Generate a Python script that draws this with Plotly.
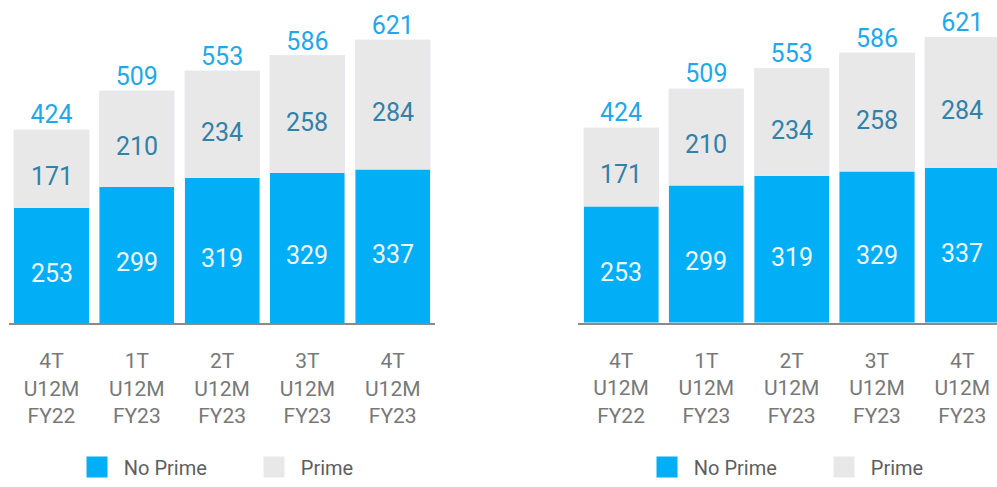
import plotly.graph_objects as go

categories = ["4T<br>U12M<br>FY22", "1T<br>U12M<br>FY23", "2T<br>U12M<br>FY23",
              "3T<br>U12M<br>FY23", "4T<br>U12M<br>FY23"]
no_prime = [253, 299, 319, 329, 337]
prime = [171, 210, 234, 258, 284]
totals = [424, 509, 553, 586, 621]
series_names = ["\u2004No Prime", "\u2004Prime"]

BLUE = "#02AEF6"
GREY = "#E8E8E8"
TOTAL_C = "#1FA8EA"
PRIME_TXT = "#3281A8"
NOPRIME_TXT = "#EEF8FE"
TICK_C = "#787878"
FONT = "Roboto, Noto Sans, sans-serif"

W, H = 997, 487

fig = go.Figure()

panels = [("x", "y", "legend"), ("x2", "y2", "legend2")]
annotations = []
for xa, ya, lg in panels:
    fig.add_trace(go.Bar(x=categories, y=no_prime, marker_color=BLUE,
                         xaxis=xa, yaxis=ya, showlegend=False, hoverinfo="skip"))
    fig.add_trace(go.Bar(x=categories, y=prime, marker_color=GREY,
                         xaxis=xa, yaxis=ya, showlegend=False, hoverinfo="skip"))
    fig.add_trace(go.Scatter(x=categories, y=totals, mode="text", text=totals,
                             textposition="top center",
                             textfont=dict(color=TOTAL_C, size=25, family=FONT),
                             xaxis=xa, yaxis=ya, showlegend=False, cliponaxis=False,
                             hoverinfo="skip"))
    for name, col in zip(series_names, [BLUE, GREY]):
        fig.add_trace(go.Scatter(x=[None], y=[None], mode="markers", name=name,
                                 marker=dict(symbol="square", size=16, color=col,
                                             line=dict(color=col, width=5)),
                                 xaxis=xa, yaxis=ya, legend=lg))
    # segment value labels, placed at the middle of each stacked segment
    for c, npv, pv in zip(categories, no_prime, prime):
        annotations.append(dict(x=c, y=npv / 2, xref=xa, yref=ya, text=str(npv),
                                showarrow=False, yshift=-8,
                                font=dict(color=NOPRIME_TXT, size=25, family=FONT)))
        annotations.append(dict(x=c, y=npv + pv / 2, xref=xa, yref=ya, text=str(pv),
                                showarrow=False, yshift=-8,
                                font=dict(color=PRIME_TXT, size=25, family=FONT)))

xcommon = dict(type="category", showline=True, linecolor="#8A8A8A", linewidth=2,
               ticks="outside", ticklen=18, tickcolor="rgba(0,0,0,0)",
               showgrid=False, zeroline=False, automargin=False,
               tickfont=dict(color=TICK_C, size=21, family=FONT))
ycommon = dict(visible=False, range=[0, 700], showgrid=False, zeroline=False,
               automargin=False)

legcommon = dict(orientation="h", font=dict(color="#5E5E5E", size=20, family=FONT),
                 bgcolor="rgba(0,0,0,0)", entrywidth=132, entrywidthmode="pixels",
                 traceorder="normal",
                 yanchor="middle", y=(H - 467) / H, xanchor="left")

fig.update_layout(
    width=W, height=H,
    margin=dict(l=0, r=0, t=0, b=0, autoexpand=False),
    paper_bgcolor="white", plot_bgcolor="white",
    barmode="stack", bargap=0.12,
    xaxis=dict(domain=[8.85 / W, 435.4 / W], range=[-0.5, 4.5], anchor="y", **xcommon),
    xaxis2=dict(domain=[578.4 / W, 1.0], range=[-0.5, 4.407], anchor="y2", **xcommon),
    yaxis=dict(domain=[(H - 323) / H, (H - 3.8) / H], anchor="x", **ycommon),
    yaxis2=dict(domain=[(H - 322.7) / H, (H - 0.7) / H], anchor="x2", **ycommon),
    legend=dict(x=77 / W, **legcommon),
    legend2=dict(x=647 / W, **legcommon),
    annotations=annotations,
)

fig.write_html("out.html", config={"displayModeBar": False},
               post_script="document.body.style.margin='0';document.body.style.overflow='hidden';")
